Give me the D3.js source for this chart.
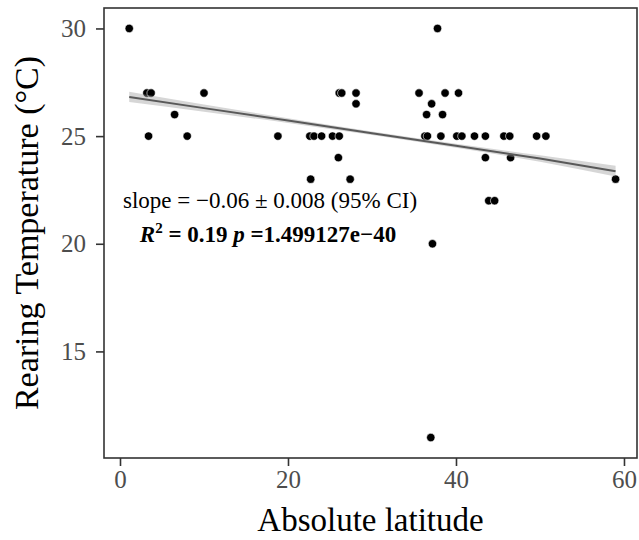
<!DOCTYPE html>
<html>
<head>
<meta charset="utf-8">
<script src="https://cdn.jsdelivr.net/npm/d3@7"></script>
<style>
  body { margin: 0; background: #fff; }
  text { font-family: "Liberation Serif", "Times New Roman", serif; }
</style>
</head>
<body>
<div id="chart"></div>
<script>
// absolute latitude of each sample
var latitude = [1.1, 3.2, 3.7, 3.4, 6.5, 8.0, 10.0, 18.8,
  22.6, 23.1, 24.0, 25.3, 26.1, 26.0, 22.7, 27.4,
  26.1, 26.4, 28.1, 28.1,
  35.6, 36.3, 36.6, 36.5, 37.1, 37.2, 37.0, 37.8, 38.2, 38.4, 38.7,
  40.3, 40.1, 40.7, 42.2, 43.5, 43.5, 43.9, 44.6, 45.7, 46.4, 46.5,
  49.6, 50.7, 59.0];
// rearing temperature (deg C), same order
var temperature = [30, 27, 27, 25, 26, 25, 27, 25,
  25, 25, 25, 25, 25, 24, 23, 23,
  27, 27, 27, 26.5,
  27, 25, 25, 26, 26.5, 20, 11, 30, 25, 26, 27,
  27, 25, 25, 25, 25, 24, 22, 22, 25, 25, 24,
  25, 25, 23];

// fitted line with 95% band
var fitX = [1.1, 10, 20, 30, 40, 50, 59.0];
var fitY = [26.82, 26.30, 25.72, 25.13, 24.55, 23.96, 23.37];
var fitLo = [26.58, 26.13, 25.61, 25.05, 24.46, 23.81, 23.12];
var fitHi = [27.06, 26.47, 25.83, 25.21, 24.64, 24.11, 23.62];

var xTicks = [0, 20, 40, 60];
var yTicks = [15, 20, 25, 30];

var W = 639, H = 540;
var pLeft = 104, pRight = 637, pTop = 8, pBottom = 458;

var svg = d3.select("#chart").append("svg")
  .attr("width", W).attr("height", H);

var x = d3.scaleLinear().domain([-1.905, 61.55]).range([pLeft, pRight]);
var y = d3.scaleLinear().domain([10.05, 30.95]).range([pBottom, pTop]);

var pts = latitude.map(function(d, i) { return {x: d, y: temperature[i]}; });
svg.append("g").selectAll("circle").data(pts).enter().append("circle")
  .attr("cx", function(d) { return x(d.x); })
  .attr("cy", function(d) { return y(d.y); })
  .attr("r", 4.2)
  .attr("fill", "#000")
  .attr("stroke", "#fff")
  .attr("stroke-width", 0.6);

var fit = fitX.map(function(d, i) { return {x: d, y: fitY[i], lo: fitLo[i], hi: fitHi[i]}; });
svg.append("path").datum(fit)
  .attr("d", d3.area().curve(d3.curveMonotoneX)
    .x(function(d) { return x(d.x); })
    .y0(function(d) { return y(d.lo); })
    .y1(function(d) { return y(d.hi); }))
  .attr("fill", "#999").attr("fill-opacity", 0.4);
svg.append("path").datum(fit)
  .attr("d", d3.line()
    .x(function(d) { return x(d.x); })
    .y(function(d) { return y(d.y); }))
  .attr("fill", "none").attr("stroke", "#595959").attr("stroke-width", 2);

// panel border
svg.append("rect")
  .attr("x", pLeft).attr("y", pTop)
  .attr("width", pRight - pLeft).attr("height", pBottom - pTop)
  .attr("fill", "none").attr("stroke", "#333").attr("stroke-width", 1.6);

var xAxis = svg.append("g").attr("transform", "translate(0," + pBottom + ")")
  .call(d3.axisBottom(x).tickValues(xTicks).tickSize(8).tickPadding(4));
var yAxis = svg.append("g").attr("transform", "translate(" + pLeft + ",0)")
  .call(d3.axisLeft(y).tickValues(yTicks).tickSize(8).tickPadding(10));
[xAxis, yAxis].forEach(function(g) {
  g.select(".domain").remove();
  g.selectAll(".tick line").attr("stroke", "#333").attr("stroke-width", 1.6);
  g.selectAll(".tick text").attr("fill", "#4d4d4d")
    .style("font-family", "'Liberation Serif', serif").style("font-size", "25px");
});

svg.append("text")
  .attr("x", (pLeft + pRight) / 2).attr("y", 531)
  .attr("text-anchor", "middle").style("font-size", "33px")
  .text("Absolute latitude");
svg.append("text")
  .attr("transform", "translate(38," + ((pTop + pBottom) / 2) + ") rotate(-90)")
  .attr("text-anchor", "middle").style("font-size", "34px")
  .text("Rearing Temperature (°C)");

// annotation
svg.append("text")
  .attr("x", 270).attr("y", 208)
  .attr("text-anchor", "middle").style("font-size", "23px")
  .text("slope = \u22120.06 \u00b1 0.008 (95% CI)");
var t2 = svg.append("text")
  .attr("x", 268).attr("y", 242)
  .attr("text-anchor", "middle").style("font-size", "23px")
  .style("font-weight", "bold");
t2.append("tspan").style("font-style", "italic").text("R");
t2.append("tspan").attr("dy", -9).style("font-size", "15px").text("2");
t2.append("tspan").attr("dy", 9).text(" = 0.19 ");
t2.append("tspan").style("font-style", "italic").text("p");
t2.append("tspan").text(" =1.499127e\u221240");
</script>
</body>
</html>
